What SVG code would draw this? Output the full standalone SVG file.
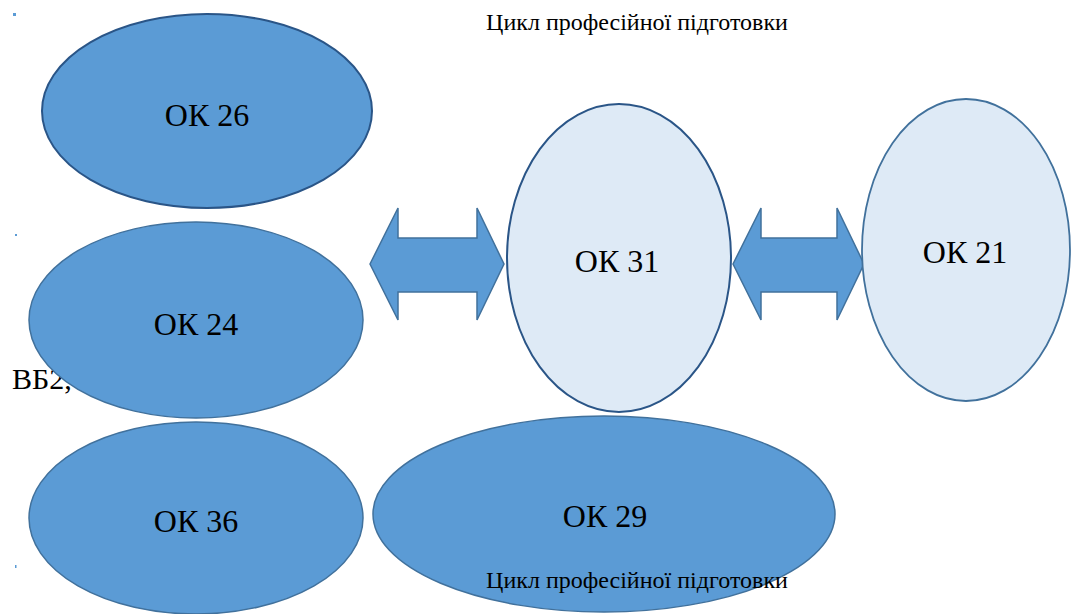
<svg xmlns="http://www.w3.org/2000/svg" width="1071" height="614" viewBox="0 0 1071 614">
<style>
.dark{fill:#5b9bd5;stroke:#41719c;stroke-width:1.5}
.light{fill:#deeaf6;stroke:#41719c;stroke-width:1.8}
.strong{stroke:#2a5587;stroke-width:2}
.lbl{font-family:'Liberation Serif','Times New Roman',serif;font-size:32px;fill:#000;text-anchor:middle}
.cap{font-family:'Liberation Serif','Times New Roman',serif;font-size:24px;fill:#000;text-anchor:middle}
.side{font-family:'Liberation Serif','Times New Roman',serif;font-size:30px;fill:#000}
.arrow{fill:#5b9bd5;stroke:#41719c;stroke-width:1.5}
.dot{fill:#5b9bd5}
</style>
<rect width="1071" height="614" fill="#fff"/>
<rect class="dot" x="13" y="13" width="3" height="3"/>
<rect class="dot" x="15" y="234" width="2" height="2"/>
<rect class="dot" x="15" y="565" width="1.5" height="3"/>
<text class="cap" x="637" y="30">Цикл професійної підготовки</text>
<text class="side" x="12" y="389">ВБ2,</text>
<g id="connectors">
<polygon class="arrow" points="370,264 398,208 398,238 477,238 477,208 504,264 477,320 477,292 398,292 398,320"/>
<polygon class="arrow" points="733,264 761,208 761,238 837,238 837,208 864,264 837,320 837,292 761,292 761,320"/>
</g>
<g id="ok26"><ellipse class="dark strong" cx="207" cy="111" rx="165" ry="97"/><text class="lbl" x="207" y="126">ОК 26</text></g>
<g id="ok24"><ellipse class="dark" cx="196" cy="320" rx="167" ry="98"/><text class="lbl" x="196" y="335">ОК 24</text></g>
<g id="ok36"><ellipse class="dark" cx="196" cy="518" rx="167" ry="96"/><text class="lbl" x="196" y="532">ОК 36</text></g>
<g id="ok29"><ellipse class="dark" cx="604" cy="514" rx="231" ry="98"/><text class="lbl" x="605" y="527">ОК 29</text></g>
<g id="ok31"><ellipse class="light strong" cx="619" cy="258" rx="112" ry="154"/><text class="lbl" x="617" y="272">ОК 31</text></g>
<g id="ok21"><ellipse class="light" cx="966" cy="250" rx="104" ry="151"/><text class="lbl" x="965" y="263">ОК 21</text></g>
<text class="cap" x="637" y="588">Цикл професійної підготовки</text>
</svg>
